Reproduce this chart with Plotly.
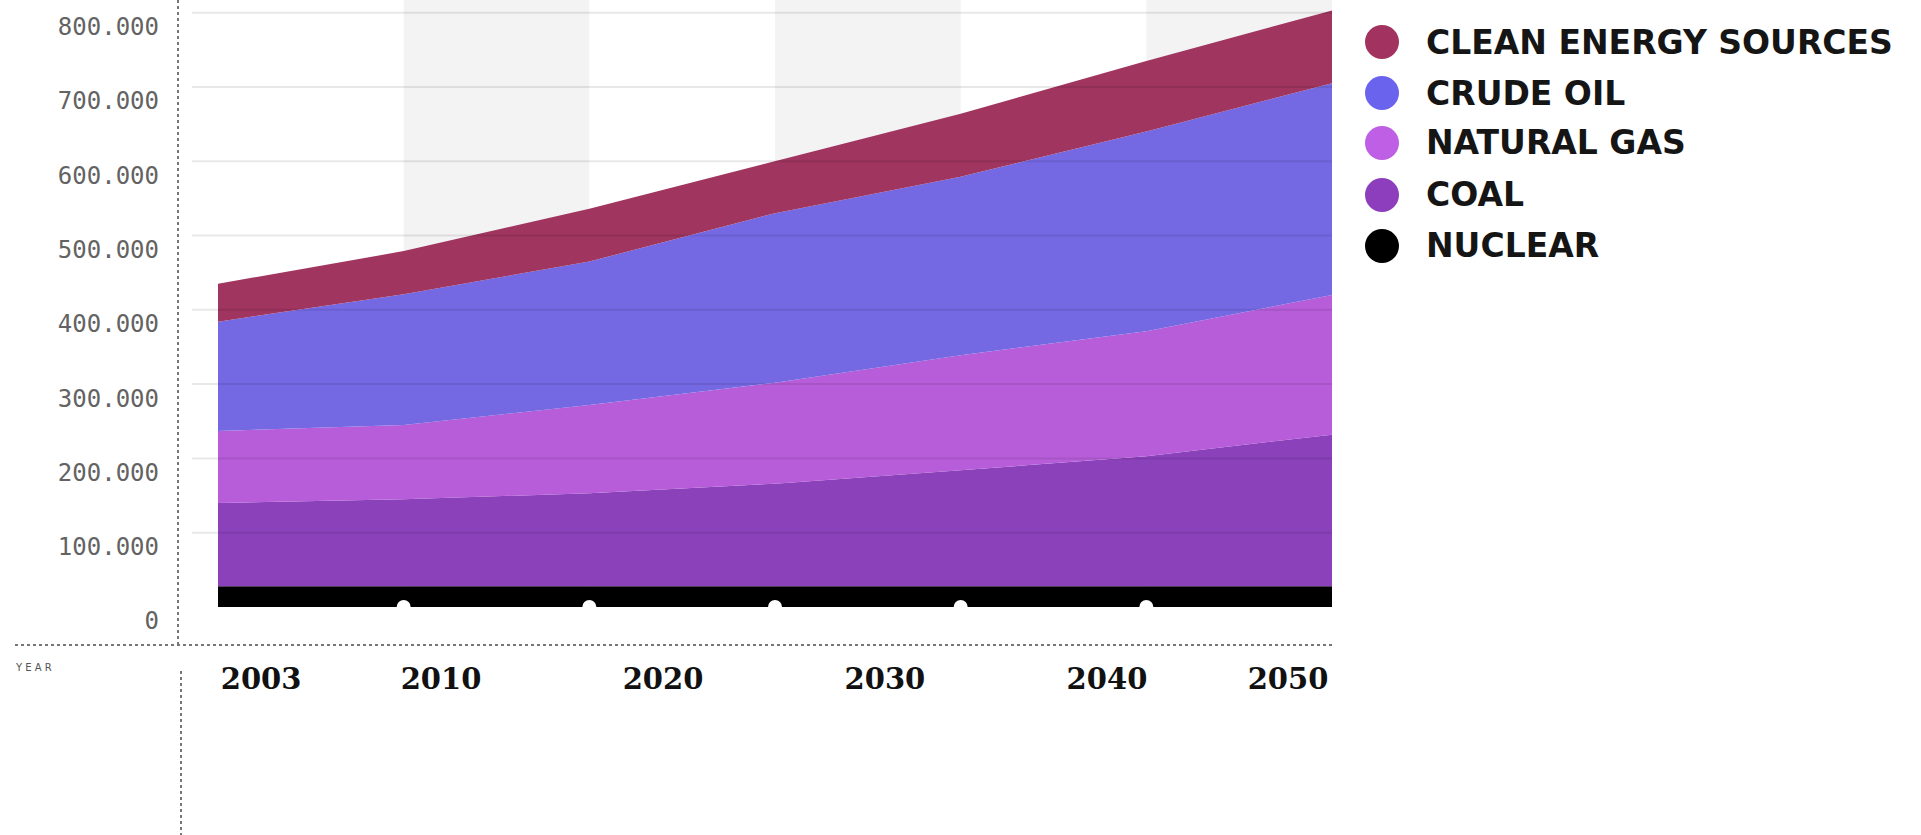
import plotly.graph_objects as go

# ---------------- data ----------------
periods = [0, 1, 2, 3, 4, 5, 6]                      # band boundaries on the time axis
year_labels = ["2003", "2010", "2020", "2030", "2040", "2050"]

nuclear = [28000, 28000, 28000, 28000, 28000, 28000, 28000]
coal = [112000, 117000, 125000, 138000, 156000, 175000, 204000]
natural_gas = [97000, 100000, 119000, 136000, 155000, 168000, 188000]
crude_oil = [147000, 176000, 193000, 228000, 240000, 269000, 285000]
clean_energy = [51000, 58000, 71000, 70000, 85000, 95000, 98000]

y_ticks = [0, 100000, 200000, 300000, 400000, 500000, 600000, 700000, 800000]

series_names = ["NUCLEAR", "COAL", "NATURAL GAS", "CRUDE OIL", "CLEAN ENERGY SOURCES"]
series_values = [nuclear, coal, natural_gas, crude_oil, clean_energy]
fill_colors = ["#000000", "#8B41BA", "#B75DDA", "#7469E3", "#A03560"]
legend_colors = ["#000000", "#8C3EBD", "#BE5FE6", "#6A63EE", "#A2325F"]

# ---------------- layout geometry (pixels) ----------------
W, H = 1921, 835
PL, PR, PT, PB = 218, 1332, 0, 607


def px_x(X):
    return (X - PL) / (PR - PL)


def px_y(Y):
    return (PB - Y) / (PB - PT)


fig = go.Figure()

for name, vals, col in zip(series_names, series_values, fill_colors):
    fig.add_trace(go.Scatter(
        x=periods, y=vals, name=name, stackgroup="one", mode="lines",
        line=dict(width=0, color=col), fillcolor=col, showlegend=False,
        hoverinfo="x+y+name",
    ))

# white notches on the baseline at band boundaries
fig.add_trace(go.Scatter(
    x=periods[1:-1], y=[0] * (len(periods) - 2), mode="markers",
    marker=dict(color="white", size=14, line=dict(width=0)),
    cliponaxis=True, showlegend=False, hoverinfo="skip",
))

shapes = []
# alternating gray bands
for i in range(1, len(periods) - 1, 2):
    shapes.append(dict(type="rect", xref="x", yref="paper", x0=periods[i], x1=periods[i + 1],
                       y0=0, y1=1, fillcolor="#f3f3f3", line=dict(width=0), layer="below"))
# gridlines (drawn over the areas, translucent)
for v in y_ticks[1:]:
    shapes.append(dict(type="line", xref="paper", yref="y", x0=px_x(192), x1=1, y0=v, y1=v,
                       line=dict(color="rgba(0,0,0,0.09)", width=2), layer="above"))
# dotted axis lines
dot = dict(color="#777777", width=2, dash="dot")
shapes.append(dict(type="line", xref="paper", yref="paper", x0=px_x(178), x1=px_x(178),
                   y0=px_y(645), y1=1, line=dot))
shapes.append(dict(type="line", xref="paper", yref="paper", x0=px_x(15), x1=1,
                   y0=px_y(645), y1=px_y(645), line=dot))
shapes.append(dict(type="line", xref="paper", yref="paper", x0=px_x(181), x1=px_x(181),
                   y0=px_y(671), y1=px_y(835), line=dot))

# custom legend
annotations = []
legend_rows = [42, 93, 143, 195, 246]
order = [4, 3, 2, 1, 0]
for row_y, idx in zip(legend_rows, order):
    shapes.append(dict(type="circle", xref="paper", yref="paper",
                       xsizemode="pixel", ysizemode="pixel",
                       xanchor=px_x(1382), yanchor=px_y(row_y),
                       x0=-17, x1=17, y0=-17, y1=17,
                       fillcolor=legend_colors[idx], line=dict(width=0)))
    annotations.append(dict(xref="paper", yref="paper", x=px_x(1424), y=px_y(row_y),
                            xanchor="left", yanchor="middle", showarrow=False,
                            text=series_names[idx],
                            font=dict(family="DejaVu Sans", size=33, color="#151515", weight="bold")))

annotations.append(dict(xref="paper", yref="paper", x=px_x(13), y=px_y(667),
                        xanchor="left", yanchor="middle", showarrow=False,
                        text="Y E A R", font=dict(family="DejaVu Sans", size=10, color="#555555")))

fig.update_layout(
    width=W, height=H,
    margin=dict(l=PL, r=W - PR, t=PT, b=H - PB, pad=0),
    paper_bgcolor="white", plot_bgcolor="white",
    separators=",.",
    shapes=shapes, annotations=annotations,
    showlegend=False,
    xaxis=dict(range=[periods[0], periods[-1]], showgrid=False, zeroline=False, showline=False,
               tickmode="array", tickvals=[0.232, 1.201, 2.397, 3.592, 4.788, 5.763],
               ticktext=year_labels, ticks="",
               tickfont=dict(family="DejaVu Serif", size=29, color="#111111", weight="bold"),
               ticklabelstandoff=52),
    yaxis=dict(range=[0, 817000], showgrid=False, zeroline=False, showline=False,
               tickmode="array", tickvals=y_ticks, tickformat=",d", ticks="",
               tickfont=dict(family="DejaVu Sans Mono", size=24, color="#636363"),
               ticklabelstandoff=58, ticklabelshift=14),
)

fig.write_html("out.html", config={"displayModeBar": False},
               post_script="document.body.style.margin='0px';")
